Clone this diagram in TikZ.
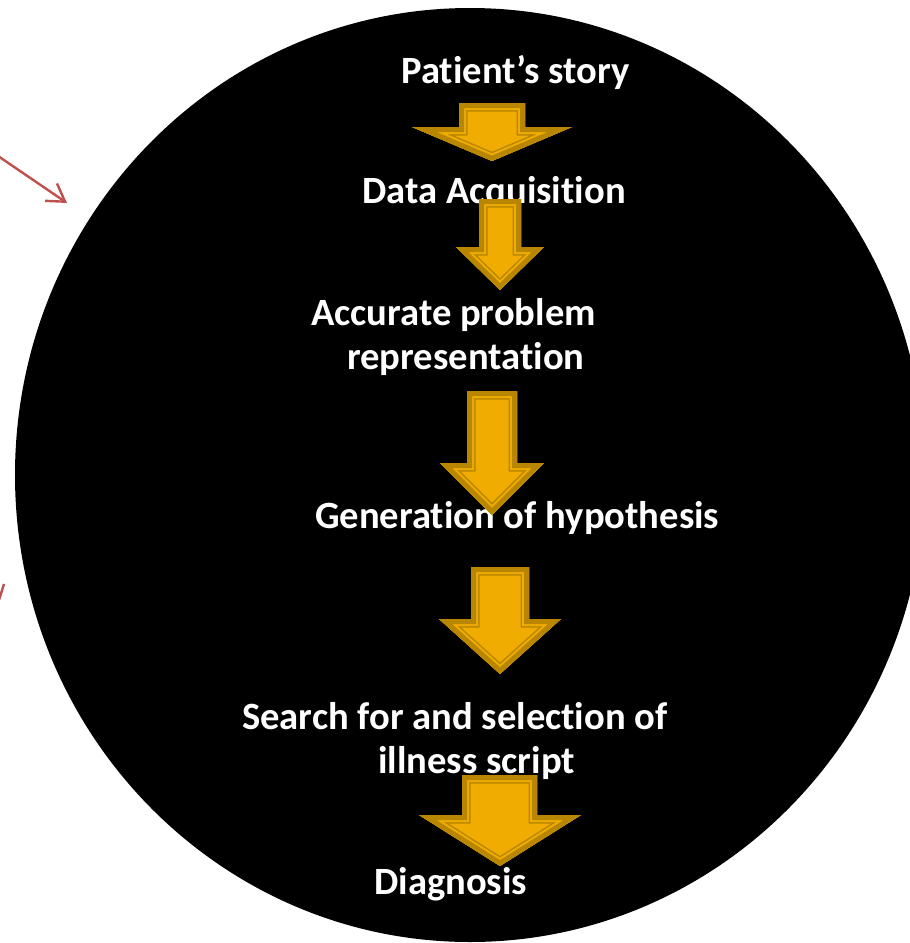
\documentclass[tikz,border=0pt]{standalone}
\usepackage{fontspec}
\setmainfont{Carlito}[Ligatures=CommonOff]
\usetikzlibrary{arrows.meta}
\definecolor{goldL}{RGB}{240,172,0}
\definecolor{goldD}{RGB}{184,134,0}
\definecolor{redA}{RGB}{192,80,77}
% #1 shaft left, #2 shaft right, #3 top, #4 head left, #5 head right, #6 head top, #7 tip x, #8 tip y
\newcommand{\goldarrow}[8]{%
  \begin{scope}
    \clip (#1,#3) -- (#2,#3) -- (#2,#6) -- (#5,#6) -- (#7,#8) -- (#4,#6) -- (#1,#6) -- cycle;
    \fill[goldL] (#1,#3) -- (#2,#3) -- (#2,#6) -- (#5,#6) -- (#7,#8) -- (#4,#6) -- (#1,#6) -- cycle;
    \draw[goldD, line width=17pt, miter limit=25] (#1,#3) -- (#2,#3) -- (#2,#6) -- (#5,#6) -- (#7,#8) -- (#4,#6) -- (#1,#6) -- cycle;
    \draw[goldL, line width=14pt, miter limit=25] (#1,#3) -- (#2,#3) -- (#2,#6) -- (#5,#6) -- (#7,#8) -- (#4,#6) -- (#1,#6) -- cycle;
    \draw[goldD, line width=10pt, miter limit=25] (#1,#3) -- (#2,#3) -- (#2,#6) -- (#5,#6) -- (#7,#8) -- (#4,#6) -- (#1,#6) -- cycle;
  \end{scope}}
\begin{document}
\begin{tikzpicture}[x=1pt, y=-1pt,
  lbl/.style={text=white, font=\fontsize{38.6}{43}\selectfont\bfseries, inner sep=0pt, anchor=base west},
  redline/.style={draw=redA, line width=2.4pt}]
  \useasboundingbox (0,0) rectangle (910,943);
  \clip (0,0) rectangle (910,943);
  \fill[black] (470,475) ellipse [x radius=455, y radius=467];

  \node[lbl] (story) at (401,83) {Patient’s story};
  \node[lbl] (data)  at (362,203) {Data Acquisition};
  \node[lbl] (acc1)  at (311,325) {Accurate problem};
  \node[lbl] (acc2)  at (347,369) {representation};
  \node[lbl] (gen)   at (315,528) {Generation of hypothesis};
  \node[lbl] (srch1) at (242,729) {Search for and selection of};
  \node[lbl] (srch2) at (378,773) {illness script};
  \node[lbl] (diag)  at (374,894) {Diagnosis};

  \goldarrow{459}{525}{103}{412}{572}{127}{492}{161}
  \goldarrow{479}{521}{199}{456}{544}{247}{500}{290}
  \goldarrow{467}{517}{391}{440}{544}{463}{492}{515}
  \goldarrow{471}{529}{567}{439}{561}{619}{500}{674}
  \goldarrow{462}{537}{775}{419}{581}{815}{500}{866}

  \coordinate (r1s) at (-2,156);
  \coordinate (r1e) at (67,203);
  \draw[redline, -{Straight Barb[length=17pt,width=21pt]}] (r1s) -- (r1e);
  \coordinate (r2s) at (-1,600);
  \coordinate (r2e) at (4,584);
  \draw[redline] (r2s) -- (r2e);
\end{tikzpicture}
\end{document}
